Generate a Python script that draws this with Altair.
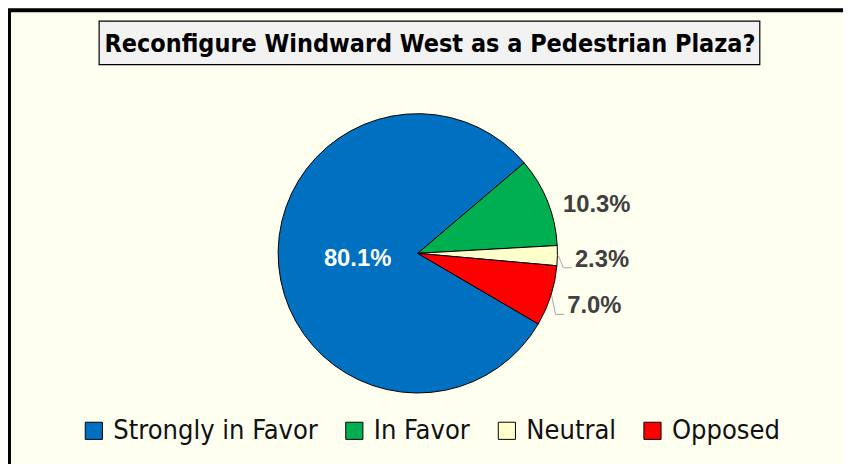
import math
import altair as alt
import pandas as pd

# ---- data ----
categories = ["Strongly in Favor", "In Favor", "Neutral", "Opposed"]
values = [80.1, 10.3, 2.3, 7.0]
labels = ["80.1%", "10.3%", "2.3%", "7.0%"]
colors = ["#0070C0", "#00B050", "#FFFFCC", "#FF0000"]
title_text = "Reconfigure Windward West as a Pedestrian Plaza?"

# ---- layout / style ----
W, H = 843, 456
CX, CY, R = 413.7, 245.5, 141
START = 2.101
LABEL_R = 186
FONT_NARROW = "Liberation Sans Narrow, DejaVu Sans Condensed, Arial Narrow, sans-serif"
FONT_LABEL = "Liberation Sans, Arial, sans-serif"
BG = "#FFFFF0"
# per-label nudges (dx, dy) for outside labels
nudges = {"In Favor": (8, 20), "Neutral": (0, 3.5), "Opposed": (1, -3)}

df = pd.DataFrame({"category": categories, "value": values,
                   "label": labels, "order": list(range(len(values)))})

theta = alt.Theta("value:Q", stack=True,
                  scale=alt.Scale(range=[START, START + 2 * math.pi]))
order = alt.Order("order:Q")
cx = alt.value(CX)
cy = alt.value(CY)

base = alt.Chart(df)

pie = base.mark_arc(radius=R, stroke="black", strokeWidth=1).encode(
    theta=theta,
    order=order,
    x=cx, y=cy,
    color=alt.Color(
        "category:N",
        scale=alt.Scale(domain=categories, range=colors),
        legend=alt.Legend(
            title=None, orient="none", legendX=73, legendY=411,
            direction="horizontal", columns=4,
            symbolType="square", symbolSize=300,
            symbolStrokeColor="black", symbolStrokeWidth=1,
            symbolOpacity=1,
            labelFont=FONT_NARROW, labelFontSize=27.3, labelColor="#111111",
            labelOffset=6, columnPadding=23, labelLimit=400,
        ),
        sort=categories,
    ),
)

inner_label = base.mark_text(
    radius=61, font=FONT_LABEL, fontSize=24, fontWeight="bold",
    color="white", align="center", baseline="middle",
).encode(
    theta=theta, order=order, x=cx, y=cy,
    text=alt.condition(f"datum.category == '{categories[0]}'",
                       "label:N", alt.value("")),
)

outer_layers = []
for cat, (dx, dy) in nudges.items():
    outer_layers.append(
        base.mark_text(
            radius=LABEL_R, dx=dx, dy=dy, font=FONT_LABEL, fontSize=24,
            fontWeight="bold", color="#404040", align="center",
            baseline="middle",
        ).encode(
            theta=theta, order=order, x=cx, y=cy,
            text=alt.condition(f"datum.category == '{cat}'",
                               "label:N", alt.value("")),
        )
    )

# leader lines for small slices, derived from the slice geometry
total = sum(values)
cum = 0.0
leader_rows = []
for cat, v in zip(categories, values):
    mid = START + 2 * math.pi * (cum + v / 2) / total
    cum += v
    if cat in ("Neutral", "Opposed"):
        dx, dy = nudges[cat]
        sx = CX + (R + 1) * math.sin(mid)
        sy = CY - (R + 1) * math.cos(mid)
        lx = CX + LABEL_R * math.sin(mid) + dx
        ly = CY - LABEL_R * math.cos(mid) + dy
        pts = [(sx, sy), (lx - 39, ly + 8), (lx - 30.5, ly + 8)]
        for i, (px, py) in enumerate(pts):
            leader_rows.append({"cat": cat, "i": i, "px": px, "py": py})
leaders = alt.Chart(pd.DataFrame(leader_rows)).mark_line(
    color="#A6A6A6", strokeWidth=1
).encode(
    x=alt.X("px:Q", scale=None),
    y=alt.Y("py:Q", scale=None),
    detail="cat:N",
    order="i:Q",
)

one = alt.Data(values=[{}])
frame = alt.Chart(one).mark_rect(
    fill=BG, stroke="black", strokeWidth=4
).encode(x=alt.value(1), x2=alt.value(W + 20), y=alt.value(0), y2=alt.value(H + 20))

title_box = alt.Chart(one).mark_rect(
    fill="#F2F2F2", stroke="black", strokeWidth=1.2
).encode(x=alt.value(92), x2=alt.value(759), y=alt.value(11), y2=alt.value(55))

title = alt.Chart(one).mark_text(
    text=title_text, font=FONT_NARROW, fontSize=25.2, fontWeight="bold",
    color="black", align="center", baseline="alphabetic",
).encode(x=alt.value(426), y=alt.value(42))

chart = alt.layer(
    frame, title_box, title, pie, leaders, inner_label, *outer_layers
).properties(
    width=W, height=H, autosize=alt.AutoSizeParams(type="none"),
    padding=0, background=BG,
).configure_view(stroke=None)

chart.save("out.html", embed_options={"renderer": "svg", "actions": False})
